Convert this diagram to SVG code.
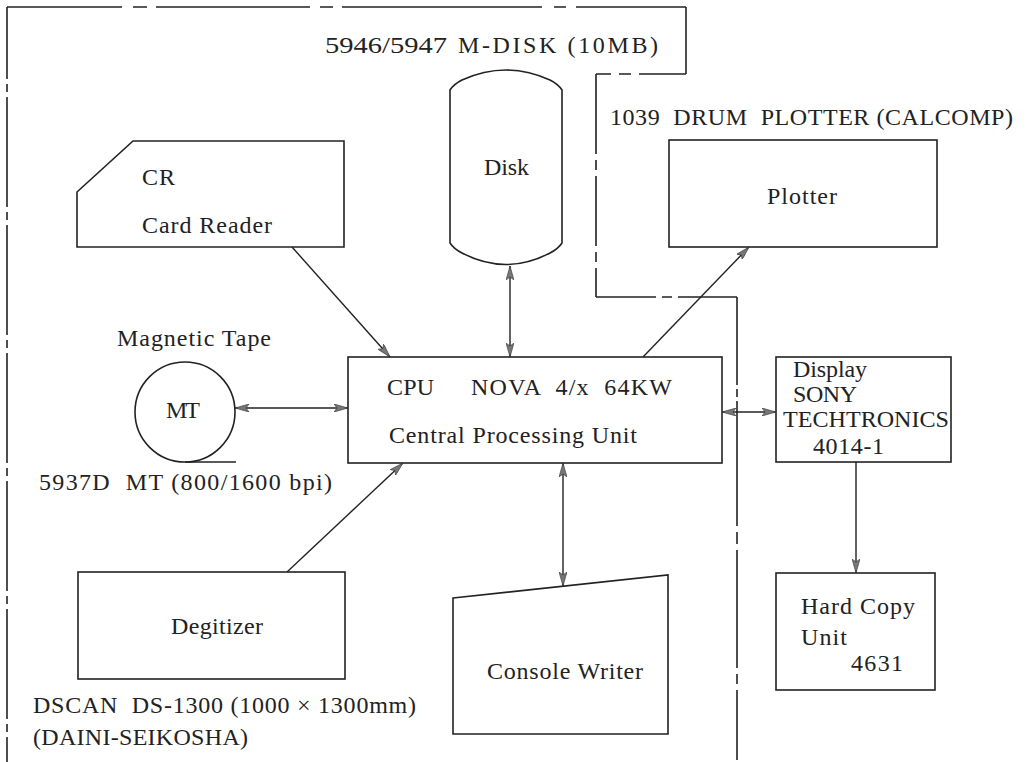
<svg xmlns="http://www.w3.org/2000/svg" width="1030" height="762" viewBox="0 0 1030 762">
<style>
  .bg{fill:#ffffff}
  .shape{fill:none;stroke:#222;stroke-width:1.6}
  .bnd{fill:none;stroke:#222;stroke-width:1.6}
  .con{fill:none;stroke:#222;stroke-width:1.4}
  text{font-family:"Liberation Serif","Times New Roman",serif;font-size:24px;fill:#222;white-space:pre}
</style>
<defs>
  <marker id="ah" viewBox="0 0 14 8" refX="14" refY="4" markerWidth="14" markerHeight="8" markerUnits="userSpaceOnUse" orient="auto-start-reverse">
    <path d="M0,0 L14,4 L0,8 L3,4 z" fill="#777" stroke="#333" stroke-width="0.6"/>
  </marker>
</defs>
<rect class="bg" x="0" y="0" width="1030" height="762"/>

<g id="boundary">
  <line class="bnd" x1="7" y1="7" x2="686" y2="7" stroke-dasharray="115 11 14 9 154 10 13 9 200 12 12 10 200"/>
  <line class="bnd" x1="686" y1="7" x2="686" y2="74"/>
  <line class="bnd" x1="686" y1="74" x2="596" y2="74" stroke-dasharray="47 8 12 8 60"/>
  <line class="bnd" x1="7" y1="7" x2="7" y2="762" stroke-dasharray="72 5 8 5 110 5 8 5 110 5 8 5 110 5 8 5 110 5 8 5 110 5 8 5 110"/>
  <line class="bnd" x1="596" y1="74" x2="596" y2="297" stroke-dasharray="80 6 10 6 70 6 10 6 40"/>
  <line class="bnd" x1="596" y1="297" x2="737" y2="297" stroke-dasharray="60 6 10 6 70"/>
  <line class="bnd" x1="737" y1="297" x2="737" y2="762" stroke-dasharray="88 4 8 4 125 6 12 6 118 6 10 6 70"/>
</g>

<g id="labels">
  <text x="325" y="53" textLength="122" lengthAdjust="spacingAndGlyphs">5946/5947</text>
  <text x="458" y="53" textLength="200" lengthAdjust="spacing">M-DISK (10MB)</text>
  <text x="610" y="125" textLength="403" lengthAdjust="spacing" xml:space="preserve">1039  DRUM  PLOTTER (CALCOMP)</text>
  <text x="117" y="346" textLength="154" lengthAdjust="spacing">Magnetic Tape</text>
  <text x="39" y="490" textLength="293" lengthAdjust="spacing" xml:space="preserve">5937D  MT (800/1600 bpi)</text>
  <text x="33" y="713" textLength="383" lengthAdjust="spacing" xml:space="preserve">DSCAN  DS-1300 (1000 × 1300mm)</text>
  <text x="33" y="745" textLength="215" lengthAdjust="spacing">(DAINI-SEIKOSHA)</text>
</g>

<g id="disk">
  <path class="shape" d="M450,90 Q454,84 462,80 Q506,60 550,80 Q558,84 562,90 L562,243 Q558,249 550,253 Q506,276 462,253 Q454,249 450,243 Z"/>
  <text x="484" y="175" textLength="45" lengthAdjust="spacing">Disk</text>
</g>

<g id="plotter">
  <rect class="shape" x="669" y="140" width="268" height="107"/>
  <text x="767" y="204" textLength="70" lengthAdjust="spacing">Plotter</text>
</g>

<g id="card-reader">
  <path class="shape" d="M133,141 L344,141 L344,247 L77,247 L77,192 Z"/>
  <text x="142" y="185" textLength="33" lengthAdjust="spacing">CR</text>
  <text x="142" y="233" textLength="130" lengthAdjust="spacing">Card Reader</text>
</g>

<g id="magnetic-tape">
  <circle class="shape" cx="185" cy="412" r="50"/>
  <line class="shape" x1="185" y1="462" x2="236" y2="462"/>
  <text x="166" y="418" textLength="34" lengthAdjust="spacing">MT</text>
</g>

<g id="cpu">
  <rect class="shape" x="348" y="357" width="374" height="106"/>
  <text x="387" y="395" textLength="47" lengthAdjust="spacing">CPU</text>
  <text x="471" y="395" textLength="201" lengthAdjust="spacing" xml:space="preserve">NOVA  4/x  64KW</text>
  <text x="389" y="443" textLength="248" lengthAdjust="spacing">Central Processing Unit</text>
</g>

<g id="display">
  <rect class="shape" x="776" y="357" width="175" height="105"/>
  <text x="793" y="377" textLength="74" lengthAdjust="spacing">Display</text>
  <text x="793" y="402" textLength="64" lengthAdjust="spacing">SONY</text>
  <text x="783" y="427" textLength="166" lengthAdjust="spacingAndGlyphs">TECHTRONICS</text>
  <text x="813" y="454" textLength="71" lengthAdjust="spacing">4014-1</text>
</g>

<g id="hard-copy">
  <rect class="shape" x="776" y="573" width="159" height="117"/>
  <text x="801" y="614" textLength="114" lengthAdjust="spacing">Hard Copy</text>
  <text x="801" y="645" textLength="46" lengthAdjust="spacing">Unit</text>
  <text x="851" y="671" textLength="52" lengthAdjust="spacing">4631</text>
</g>

<g id="digitizer">
  <rect class="shape" x="78" y="572" width="267" height="107"/>
  <text x="171" y="634" textLength="92" lengthAdjust="spacing">Degitizer</text>
</g>

<g id="console-writer">
  <path class="shape" d="M453,598 L668,575 L668,734 L453,734 Z"/>
  <text x="487" y="679" textLength="156" lengthAdjust="spacing">Console Writer</text>
</g>

<g id="connectors">
  <line class="con" x1="292" y1="247" x2="390" y2="357" marker-end="url(#ah)"/>
  <line class="con" x1="510" y1="266" x2="510" y2="357" marker-start="url(#ah)" marker-end="url(#ah)"/>
  <line class="con" x1="643" y1="357" x2="749" y2="247" marker-end="url(#ah)"/>
  <line class="con" x1="235" y1="408" x2="348" y2="408" marker-start="url(#ah)" marker-end="url(#ah)"/>
  <line class="con" x1="722" y1="412" x2="776" y2="412" marker-start="url(#ah)" marker-end="url(#ah)"/>
  <line class="con" x1="287" y1="572" x2="403" y2="463" marker-end="url(#ah)"/>
  <line class="con" x1="563" y1="463" x2="563" y2="586" marker-start="url(#ah)" marker-end="url(#ah)"/>
  <line class="con" x1="856" y1="462" x2="856" y2="573" marker-end="url(#ah)"/>
</g>
</svg>
